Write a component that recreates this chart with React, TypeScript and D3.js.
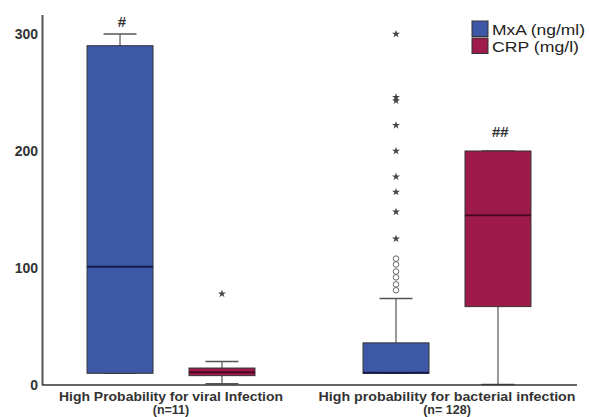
import React, { useEffect, useRef } from 'react';
import * as d3 from 'd3';

// groups on the x axis
const groups = ['High Probability for viral Infection', 'High probability for bacterial infection'];
const groupN = ['(n=11)', '(n= 128)'];
const series = ['MxA (ng/ml)', 'CRP (mg/l)'];
const seriesColor = ['#3e58a8', '#9e1a4b'];
const medianColor = ['#141c48', '#4a0820'];

// five-number summaries: [min, q1, median, q3, max], per group
const mxaBox = [[10, 10, 101, 290, 300], [10, 10, 10.5, 36, 74]];
const crpBox = [[1, 8, 11, 14.5, 20], [0.5, 67, 145, 200, 200]];

// outliers (circles) and extremes (stars)
const mxaCircles = [[], [81, 86, 92, 97, 103, 108]];
const mxaStars = [[], [125, 148, 165, 178, 200, 222, 243, 246, 300]];
const crpCircles = [[], []];
const crpStars = [[78], []];

// significance marks
const mxaSig = ['#', ''];
const crpSig = ['', '##'];

const yTicks = [0, 100, 200, 300];

const W = 589;
const H = 417;
const FONT = 'Arial, "Liberation Sans", sans-serif';

const App = () => {
  const svgRef = useRef(null);

  useEffect(() => {
    const svg = d3.select(svgRef.current);
    svg.selectAll('*').remove();

    const xGroup = d3.scaleBand().domain(groups).range([33, 585]);
    const xSeries = d3.scaleBand()
      .domain(series)
      .range([0, xGroup.bandwidth()])
      .paddingInner(0.353)
      .paddingOuter(0.53);
    const y = d3.scaleLinear().domain([0, 300]).range([385, 34]);
    const bw = xSeries.bandwidth();

    // Y axis
    svg.append('line')
      .attr('x1', 42.5).attr('x2', 42.5)
      .attr('y1', 15).attr('y2', y(0))
      .attr('stroke', '#555').attr('stroke-width', 2);

    svg.selectAll('.ytick')
      .data(yTicks)
      .join('text')
      .attr('class', 'ytick')
      .attr('x', 38)
      .attr('y', d => y(d))
      .attr('dy', '0.36em')
      .attr('text-anchor', 'end')
      .attr('font-family', FONT)
      .attr('font-weight', 'bold')
      .attr('font-size', 14)
      .attr('fill', '#333')
      .text(d => d);

    const boxData = [mxaBox, crpBox];
    const circleData = [mxaCircles, crpCircles];
    const starData = [mxaStars, crpStars];
    const sigData = [mxaSig, crpSig];
    const star = d3.symbol(d3.symbolStar).size(20);

    series.forEach((s, si) => {
      groups.forEach((g, gi) => {
        const [mn, q1, med, q3, mx] = boxData[si][gi];
        const x0 = xGroup(g) + xSeries(s);
        const cx = x0 + bw / 2;
        const grp = svg.append('g');

        // whiskers
        grp.append('line')
          .attr('x1', cx).attr('x2', cx)
          .attr('y1', y(mx)).attr('y2', y(mn))
          .attr('stroke', '#555').attr('stroke-width', 1.2);
        [mn, mx].forEach(v => {
          grp.append('line')
            .attr('x1', cx - bw / 4).attr('x2', cx + bw / 4)
            .attr('y1', y(v)).attr('y2', y(v))
            .attr('stroke', '#555').attr('stroke-width', 1.5);
        });

        // box
        grp.append('rect')
          .attr('x', x0).attr('width', bw)
          .attr('y', y(q3)).attr('height', y(q1) - y(q3))
          .attr('fill', seriesColor[si])
          .attr('stroke', '#333').attr('stroke-width', 1);

        grp.append('line')
          .attr('x1', x0).attr('x2', x0 + bw)
          .attr('y1', y(med)).attr('y2', y(med))
          .attr('stroke', medianColor[si]).attr('stroke-width', 2);

        // outliers
        grp.selectAll('.out')
          .data(circleData[si][gi])
          .join('circle')
          .attr('class', 'out')
          .attr('cx', cx).attr('cy', d => y(d))
          .attr('r', 2.8)
          .attr('fill', '#fff').attr('stroke', '#666').attr('stroke-width', 1);

        grp.selectAll('.ext')
          .data(starData[si][gi])
          .join('path')
          .attr('class', 'ext')
          .attr('d', star)
          .attr('transform', d => `translate(${cx},${y(d)})`)
          .attr('fill', '#444');

        // significance
        const sig = sigData[si][gi];
        if (sig) {
          grp.append('text')
            .attr('x', cx + 2)
            .attr('y', y(mx) - (sig.length > 1 ? 14 : 7))
            .attr('text-anchor', 'middle')
            .attr('font-family', FONT)
            .attr('font-weight', 'bold')
            .attr('font-style', sig.length > 1 ? 'italic' : 'normal')
            .attr('font-size', 15)
            .attr('fill', '#333')
            .text(sig);
        }
      });
    });

    // X axis
    svg.append('line')
      .attr('x1', 42).attr('x2', 577)
      .attr('y1', y(0)).attr('y2', y(0))
      .attr('stroke', '#333').attr('stroke-width', 1.5);

    const labelWidth = [224, 257];
    groups.forEach((g, gi) => {
      const cx = xGroup(g) + xGroup.bandwidth() / 2;
      const style = sel => sel
        .attr('x', cx)
        .attr('text-anchor', 'middle')
        .attr('font-family', FONT)
        .attr('font-weight', 'bold')
        .attr('font-size', 12.5)
        .attr('fill', '#333');
      svg.append('text').call(style)
        .attr('y', 401)
        .attr('textLength', labelWidth[gi])
        .attr('lengthAdjust', 'spacingAndGlyphs')
        .text(g);
      svg.append('text').call(style)
        .attr('y', 414)
        .text(groupN[gi]);
    });

    // Legend
    const legendWidth = [93, 87];
    const lg = svg.append('g').attr('transform', 'translate(472,21)');
    series.forEach((s, i) => {
      lg.append('rect')
        .attr('x', 0).attr('y', i * 17)
        .attr('width', 16).attr('height', 15.5)
        .attr('fill', seriesColor[i])
        .attr('stroke', '#333').attr('stroke-width', 1);
      lg.append('text')
        .attr('x', 20).attr('y', i * 17 + 8)
        .attr('dy', '0.36em')
        .attr('font-family', FONT)
        .attr('font-size', 15.5)
        .attr('textLength', legendWidth[i])
        .attr('lengthAdjust', 'spacingAndGlyphs')
        .attr('fill', '#222')
        .text(s);
    });
  }, []);

  return (
    <svg
      ref={svgRef}
      width={W}
      height={H}
      style={{ position: 'absolute', left: 0, top: 0, background: '#fff' }}
    />
  );
};

export default App;
